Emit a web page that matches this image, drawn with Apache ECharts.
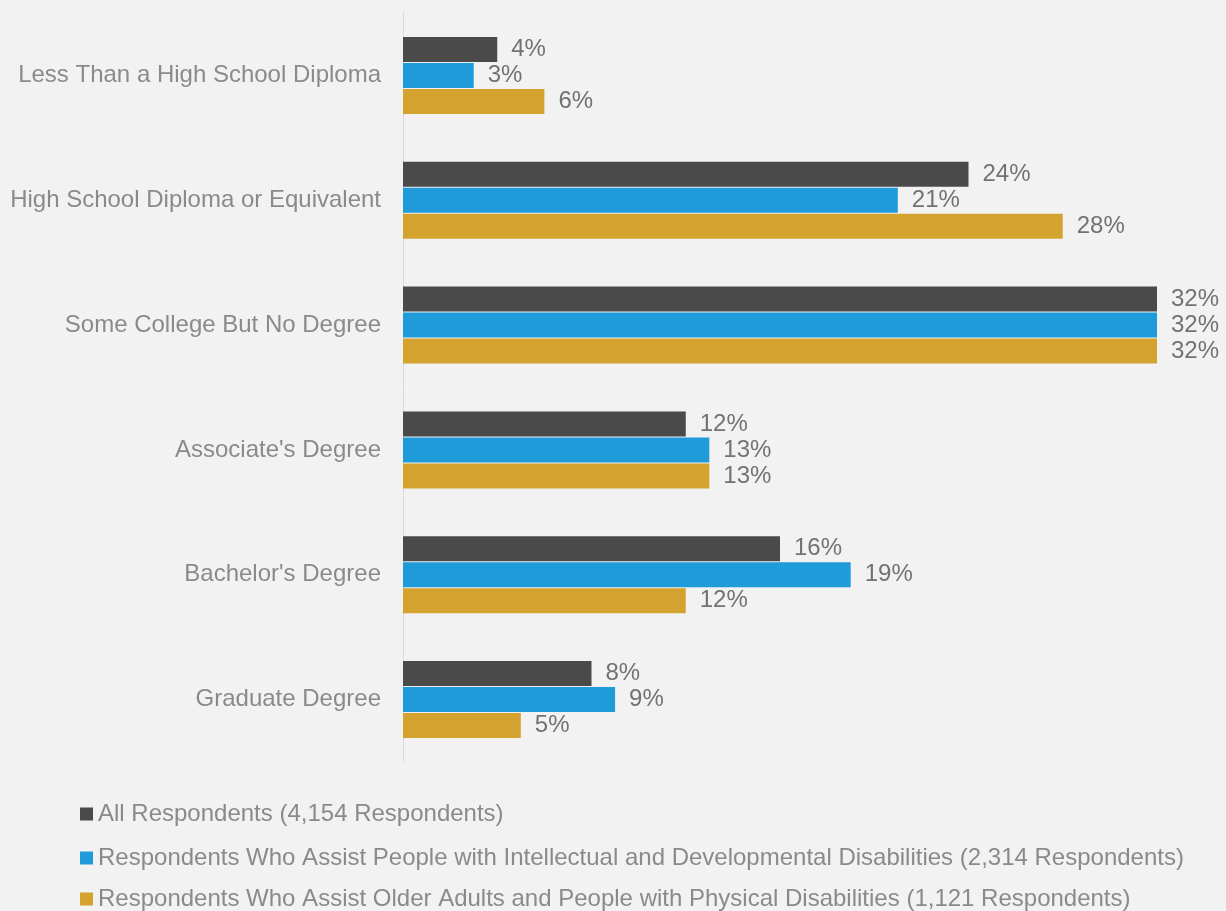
<!DOCTYPE html>
<html>
<head>
<meta charset="utf-8">
<script src="https://cdn.jsdelivr.net/npm/echarts@6/dist/echarts.min.js"></script>
<style>
  html, body { margin: 0; padding: 0; background: #f2f2f2; }
  #chart { width: 1226px; height: 911px; }
</style>
</head>
<body>
<div id="chart"></div>
<script>
// Education level categories (top to bottom)
const categories = [
  'Less Than a High School Diploma',
  'High School Diploma or Equivalent',
  'Some College But No Degree',
  "Associate's Degree",
  "Bachelor's Degree",
  'Graduate Degree'
];

const seriesNames = [
  'All Respondents (4,154 Respondents)',
  'Respondents Who Assist People with Intellectual and Developmental Disabilities (2,314 Respondents)',
  'Respondents Who Assist Older Adults and People with Physical Disabilities (1,121 Respondents)'
];

// Percent of respondents
const allRespondents = [4, 24, 32, 12, 16, 8];
const iddRespondents = [3, 21, 32, 13, 19, 9];
const olderAdultRespondents = [6, 28, 32, 13, 12, 5];

const colors = ['#4a4a4a', '#1f9bd9', '#d4a32f'];
const categoryGrey = '#8a8a8a';
const valueGrey = '#727272';
const fontFamily = 'Liberation Sans, Arial, sans-serif';

const seriesData = [allRespondents, iddRespondents, olderAdultRespondents];

// One legend row per series, stacked below the plot
const legendTops = [802, 846, 887];
const legends = seriesNames.map((name, i) => ({
  orient: 'vertical',
  left: 80,
  top: legendTops[i],
  padding: 0,
  itemWidth: 13,
  itemHeight: 13,
  icon: 'rect',
  textStyle: { color: categoryGrey, fontSize: 24, fontFamily: fontFamily, lineHeight: 24 },
  data: [name]
}));

const chart = echarts.init(document.getElementById('chart'));

chart.setOption({
  backgroundColor: '#f2f2f2',
  animation: false,
  textStyle: { fontFamily: fontFamily },
  grid: { left: 403, right: 69, top: 13, bottom: 149, containLabel: false },
  xAxis: {
    type: 'value',
    min: 0,
    max: 32,
    show: false
  },
  yAxis: {
    type: 'category',
    data: categories,
    inverse: true,
    axisLine: { show: true, lineStyle: { color: '#d9d9d9', width: 1 } },
    axisTick: { show: false },
    axisLabel: { color: categoryGrey, fontSize: 24, margin: 22, fontFamily: fontFamily }
  },
  legend: legends,
  series: seriesNames.map((name, i) => ({
    name: name,
    type: 'bar',
    data: seriesData[i],
    barWidth: 25,
    barGap: '4%',
    barCategoryGap: '38%',
    itemStyle: { color: colors[i] },
    label: {
      show: true,
      position: 'right',
      distance: 14,
      color: valueGrey,
      fontSize: 24,
      fontFamily: fontFamily,
      formatter: p => p.value + '%'
    }
  }))
});
</script>
</body>
</html>
